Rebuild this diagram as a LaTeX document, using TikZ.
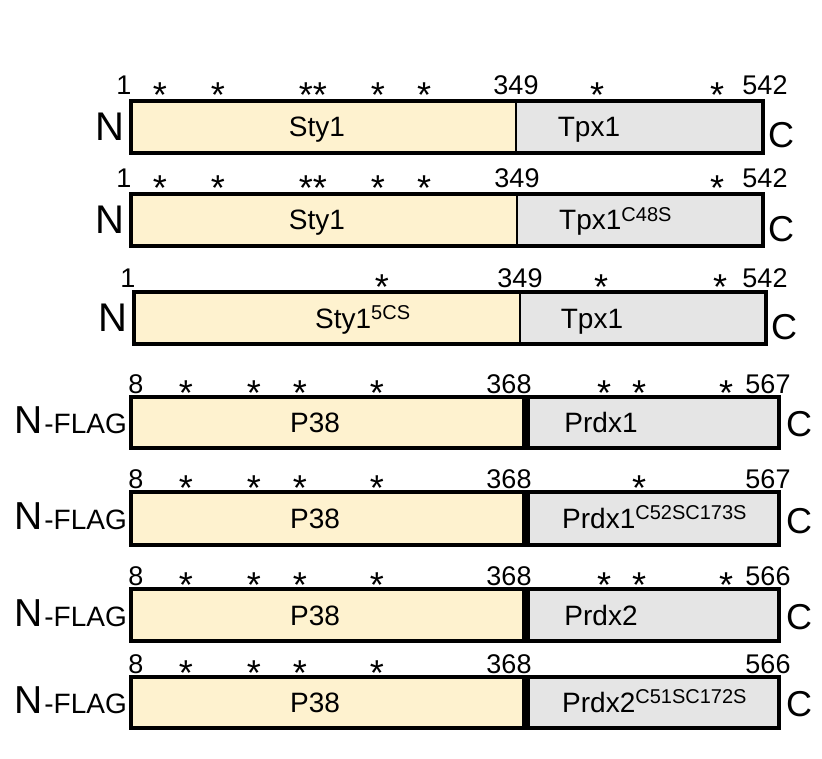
\documentclass[tikz,border=0pt]{standalone}
\usepackage{fontspec}
\setmainfont{Liberation Sans}
\definecolor{yel}{RGB}{254,242,207}
\definecolor{gry}{RGB}{229,229,229}
\newcommand\supr[1]{\raisebox{8.5pt}{\fontsize{20}{20}\selectfont #1}}
\newcommand\flagtxt{{\fontsize{39}{39}\selectfont N}\kern2pt{\fontsize{28}{28}\selectfont -FLAG}}
% L D R T B divider-width
\newcommand\protbox[6]{%
  \path[fill=yel] (#1,#4) rectangle (#2,#5);
  \path[fill=gry] (#2,#4) rectangle (#3,#5);
  \draw[line width=#6pt] (#2,#4) -- (#2,#5);
  \draw[line width=3.5pt] (#1,#4) rectangle (#3,#5);
}
\tikzset{
  num/.style={font=\fontsize{27}{27}\selectfont, anchor=base, inner sep=0pt, text height=19pt, text depth=0pt},
  star/.style={font=\fontsize{36}{36}\selectfont, anchor=base, inner sep=0pt, text height=26pt, text depth=-15pt},
  lab/.style={font=\fontsize{28}{28}\selectfont, anchor=base, inner sep=0pt, text height=20pt, text depth=0pt},
  labw/.style={font=\fontsize{28}{28}\selectfont, anchor=base west, inner sep=0pt, text height=20pt, text depth=0pt},
  nterm/.style={font=\fontsize{40}{40}\selectfont, anchor=base east, inner sep=0pt},
  cterm/.style={font=\fontsize{36}{36}\selectfont, anchor=base west, inner sep=0pt},
  flagterm/.style={anchor=base east, inner sep=0pt}
}
\begin{document}
\begin{tikzpicture}[x=1pt,y=-1pt]
\useasboundingbox (0,0) rectangle (822,759);
\path[fill=white] (0,0) rectangle (822,759);

% ---------- Row 1 ----------
\protbox{131}{516}{763}{101}{153}{2.5}
\node[num] (r1n1) at (124,95) {1};
\node[num] (r1n2) at (516,95) {349};
\node[num] (r1n3) at (765,95) {542};
\node[star] (r1s1) at (160,108) {*};
\node[star] (r1s2) at (218,108) {*};
\node[star] (r1s3) at (313,108) {**};
\node[star] (r1s4) at (378,108) {*};
\node[star] (r1s5) at (424,108) {*};
\node[star] (r1s6) at (597,108) {*};
\node[star] (r1s7) at (717,108) {*};
\node[lab] (r1a) at (317,137) {Sty1};
\node[lab] (r1b) at (589,137) {Tpx1};
\node[nterm] (r1N) at (125,141) {N};
\node[cterm] (r1C) at (768,148) {C};

% ---------- Row 2 ----------
\protbox{131}{517}{763}{194}{246}{2.5}
\node[num] (r2n1) at (124,188) {1};
\node[num] (r2n2) at (517,188) {349};
\node[num] (r2n3) at (765,188) {542};
\node[star] (r2s1) at (160,201) {*};
\node[star] (r2s2) at (218,201) {*};
\node[star] (r2s3) at (313,201) {**};
\node[star] (r2s4) at (378,201) {*};
\node[star] (r2s5) at (424,201) {*};
\node[star] (r2s7) at (717,201) {*};
\node[lab] (r2a) at (317,230) {Sty1};
\node[labw] (r2b) at (559,230) {Tpx1\supr{C48S}};
\node[nterm] (r2N) at (125,234) {N};
\node[cterm] (r2C) at (768,242) {C};

% ---------- Row 3 ----------
\protbox{134}{520}{766}{292}{344}{2.5}
\node[num] (r3n1) at (128,288) {1};
\node[num] (r3n2) at (520,288) {349};
\node[num] (r3n3) at (765,288) {542};
\node[star] (r3s1) at (382,300) {*};
\node[star] (r3s2) at (601,300) {*};
\node[star] (r3s3) at (720,300) {*};
\node[labw] (r3a) at (315,328) {Sty1\supr{5CS}};
\node[lab] (r3b) at (592,328) {Tpx1};
\node[nterm] (r3N) at (128,332) {N};
\node[cterm] (r3C) at (771,340) {C};

% ---------- Row 4 ----------
\protbox{131}{526}{779}{397}{448}{7.5}
\node[num] (r4n1) at (136,393) {8};
\node[num] (r4n2) at (509,393) {368};
\node[num] (r4n3) at (768,393) {567};
\node[star] (r4s1) at (186,405) {*};
\node[star] (r4s2) at (254,405) {*};
\node[star] (r4s3) at (300,405) {*};
\node[star] (r4s4) at (377,405) {*};
\node[star] (r4s5) at (604,405) {*};
\node[star] (r4s6) at (639,405) {*};
\node[star] (r4s7) at (726,405) {*};
\node[lab] (r4a) at (315,432) {P38};
\node[lab] (r4b) at (601,432) {Prdx1};
\node[flagterm] (r4N) at (127,433) {\flagtxt};
\node[cterm] (r4C) at (786,436) {C};

% ---------- Row 5 ----------
\protbox{131}{526}{779}{492}{545}{7.5}
\node[num] (r5n1) at (136,488) {8};
\node[num] (r5n2) at (509,488) {368};
\node[num] (r5n3) at (768,488) {567};
\node[star] (r5s1) at (186,500) {*};
\node[star] (r5s2) at (254,500) {*};
\node[star] (r5s3) at (300,500) {*};
\node[star] (r5s4) at (377,500) {*};
\node[star] (r5s5) at (639,500) {*};
\node[lab] (r5a) at (315,528) {P38};
\node[labw] (r5b) at (562,528) {Prdx1\supr{C52SC173S}};
\node[flagterm] (r5N) at (127,529) {\flagtxt};
\node[cterm] (r5C) at (786,533) {C};

% ---------- Row 6 ----------
\protbox{131}{526}{779}{589}{641}{7.5}
\node[num] (r6n1) at (136,585) {8};
\node[num] (r6n2) at (509,585) {368};
\node[num] (r6n3) at (768,585) {566};
\node[star] (r6s1) at (186,597) {*};
\node[star] (r6s2) at (254,597) {*};
\node[star] (r6s3) at (300,597) {*};
\node[star] (r6s4) at (377,597) {*};
\node[star] (r6s5) at (604,597) {*};
\node[star] (r6s6) at (639,597) {*};
\node[star] (r6s7) at (726,597) {*};
\node[lab] (r6a) at (315,625) {P38};
\node[lab] (r6b) at (601,625) {Prdx2};
\node[flagterm] (r6N) at (127,626) {\flagtxt};
\node[cterm] (r6C) at (786,629) {C};

% ---------- Row 7 ----------
\protbox{131}{526}{779}{677}{728}{7.5}
\node[num] (r7n1) at (136,673) {8};
\node[num] (r7n2) at (509,673) {368};
\node[num] (r7n3) at (768,673) {566};
\node[star] (r7s1) at (186,685) {*};
\node[star] (r7s2) at (254,685) {*};
\node[star] (r7s3) at (300,685) {*};
\node[star] (r7s4) at (377,685) {*};
\node[lab] (r7a) at (315,712) {P38};
\node[labw] (r7b) at (562,712) {Prdx2\supr{C51SC172S}};
\node[flagterm] (r7N) at (127,713) {\flagtxt};
\node[cterm] (r7C) at (786,716) {C};
\end{tikzpicture}
\end{document}
